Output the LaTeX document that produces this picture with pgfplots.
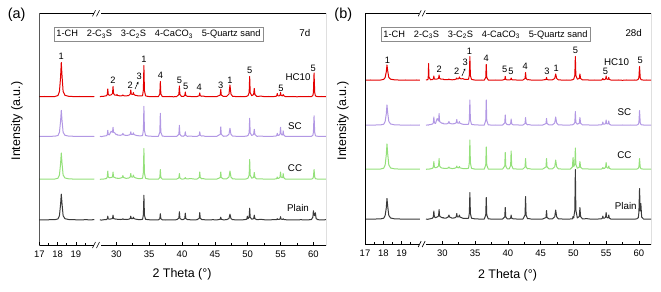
\documentclass[border=0pt]{standalone}
\usepackage{pgfplots}
\pgfplotsset{compat=1.18}
\usepackage{pgfplotstable}
\usetikzlibrary{arrows.meta}
\usepackage{fontspec}
\setmainfont{Liberation Sans}

\definecolor{cR}{RGB}{228,0,0}
\definecolor{cP}{RGB}{178,152,228}
\definecolor{cG}{RGB}{148,224,122}
\definecolor{cK}{RGB}{58,58,58}
\definecolor{boxgray}{RGB}{140,140,140}

% heights above each trace's baseline (px units); columns: panel (a) red/purple/green/black, panel (b) red/purple/green/black
\pgfplotstableread{
x     ra   pa   ga   ka   rb   pb   gb   kb
17.0  0.8  1.0  0.8  0.9  0.8  1.0  0.8  1.0
17.3  1.0  0.8  1.0  0.8  1.0  0.8  1.0  0.8
17.6  0.8  1.0  0.9  1.0  0.8  1.0  0.9  1.0
17.85 1.0  1.1  1.0  1.0  1.0  1.1  1.0  1.1
18.02 2.0  1.8  1.8  1.8  1.6  1.8  1.8  1.8
18.1  6.0  5.0  5.0  5.0  3.5  4.5  5.0  4.5
18.16 20.0 16.0 16.0 16.0 9.0  12.0 15.0 12.0
18.2  35.0 27.0 27.0 26.5 16.0 21.0 26.0 21.5
18.24 22.0 17.0 17.0 17.0 10.0 13.0 16.0 13.5
18.3  6.0  5.0  5.0  5.0  3.5  4.5  5.0  4.5
18.4  2.2  2.0  2.0  2.0  1.8  2.0  2.0  2.0
18.6  1.2  1.2  1.2  1.2  1.2  1.2  1.2  1.2
18.9  0.9  1.0  0.9  1.0  0.9  1.0  0.9  1.0
19.2  1.0  0.8  1.0  0.8  1.0  0.8  1.0  0.8
19.5  0.8  1.0  0.8  1.0  0.8  1.0  0.8  1.0
19.8  1.0  0.9  1.0  0.9  1.0  0.9  1.0  0.9
20.0  0.8  1.0  0.8  1.0  0.8  1.0  0.8  1.0
}\leftdata

\pgfplotstableread{
x     ra   pa   ga   ka   rb   pb   gb   kb
27.5  0.8  1.0  0.6  0.8  1.0  0.8  0.7  0.9
27.8  1.2  0.7  1.0  0.6  1.4  1.1  0.9  0.7
27.85 1.0  0.9  0.8  0.8  5.0  1.0  0.8  0.8
27.9  1.1  0.8  0.9  0.7  17.5 0.9  1.0  0.9
27.95 1.0  1.0  0.8  0.9  4.0  1.2  0.9  1.0
28.2  1.4  1.3  1.1  1.0  1.2  1.5  1.2  1.3
28.5  1.8  1.6  1.5  1.2  1.5  2.0  1.7  1.8
28.62 3.0  2.5  3.0  1.8  2.0  3.2  3.0  3.2
28.7  8.5  7.0  9.0  4.5  5.0  9.0  8.5  9.0
28.78 3.0  2.8  3.0  1.8  2.0  3.2  3.0  3.2
28.95 2.2  2.5  2.2  1.5  1.8  2.5  2.2  2.4
29.2  2.6  6.0  2.5  1.8  2.0  7.5  2.8  3.0
29.42 4.0  5.0  3.0  2.2  2.5  5.0  4.0  4.0
29.5  11.0 10.0 8.0  5.5  6.0  12.5 11.5 10.5
29.58 4.0  5.0  3.0  2.2  2.5  4.5  4.0  4.0
29.75 2.5  4.5  2.5  1.8  2.0  3.5  2.5  3.0
30.0  2.2  2.5  1.8  1.5  1.8  2.5  1.8  2.2
30.1  3.0  3.0  2.0  1.5  2.0  3.0  2.0  2.5
30.2  2.0  2.2  1.6  1.3  1.5  2.2  1.6  2.0
30.6  1.6  2.0  1.8  1.2  1.3  2.0  1.5  2.0
30.9  1.8  2.5  2.5  1.4  1.4  2.8  2.0  3.0
31.0  2.5  4.0  4.5  2.0  2.0  4.5  3.0  5.0
31.1  1.8  2.5  2.5  1.4  1.4  2.8  2.0  3.0
31.5  1.6  1.8  1.6  1.2  1.2  2.0  1.4  1.8
31.9  2.0  2.2  2.0  1.5  1.5  2.5  1.8  2.2
32.12 3.5  3.0  3.0  2.2  2.0  3.2  2.4  3.2
32.2  7.5  5.5  6.5  4.5  3.0  6.5  4.0  6.5
32.28 3.5  3.0  3.2  2.2  2.0  3.2  2.4  3.2
32.45 3.0  2.8  2.8  2.0  2.2  2.8  2.2  3.0
32.52 3.2  3.0  3.0  2.2  2.6  3.0  2.4  3.2
32.6  5.0  4.5  5.0  3.5  4.0  4.5  3.5  5.0
32.68 3.0  2.8  3.0  2.2  2.6  2.8  2.2  3.0
32.9  2.2  2.2  2.2  1.6  2.0  2.2  1.8  2.4
33.1  2.0  1.8  1.8  1.4  2.5  1.8  1.5  1.8
33.3  1.6  1.6  1.5  1.2  1.8  1.6  1.4  1.6
33.7  1.6  1.4  1.4  1.1  1.5  1.5  1.3  1.5
34.0  1.8  1.8  1.8  1.4  1.8  1.8  1.8  1.8
34.12 8.0  7.5  8.0  6.0  6.0  6.5  7.5  7.0
34.2  32.0 31.0 31.5 25.5 24.5 26.0 30.0 27.5
34.28 7.0  7.0  7.0  5.5  5.5  6.0  7.0  6.5
34.45 1.6  1.8  1.6  1.4  1.6  1.6  1.6  1.8
34.9  1.0  1.2  1.0  1.0  1.0  1.2  1.0  1.2
35.5  0.8  1.0  0.8  0.8  0.9  1.0  0.8  1.0
36.0  1.0  0.8  1.0  0.9  1.0  0.9  1.0  0.8
36.4  0.9  1.0  0.8  0.8  0.9  1.0  0.9  1.0
36.62 3.5  5.0  2.5  2.0  3.5  5.5  5.0  5.0
36.7  16.0 24.0 10.5 7.0  16.5 26.0 23.0 22.5
36.78 3.5  5.0  2.5  2.0  3.5  5.5  5.0  5.0
37.0  1.0  1.2  0.9  0.9  1.0  1.2  1.0  1.2
37.5  0.8  0.9  0.8  0.7  0.8  0.9  0.8  0.9
38.1  1.0  1.0  0.9  0.9  1.0  1.0  1.0  1.0
38.7  0.7  0.8  0.8  0.8  0.8  0.8  0.8  0.8
39.2  1.0  1.0  1.0  1.0  1.0  1.0  1.0  1.0
39.52 3.0  3.0  2.0  2.5  1.6  3.0  4.0  3.0
39.6  11.5 12.0 6.5  9.0  4.5  11.0 17.5 12.5
39.68 3.0  3.0  2.0  2.5  1.6  3.0  4.0  3.0
39.9  1.2  1.2  1.0  1.2  1.0  1.4  1.2  1.2
40.2  1.0  1.0  1.0  1.2  1.0  1.2  1.2  1.0
40.42 2.0  2.0  1.4  2.2  1.4  2.2  4.5  1.8
40.5  5.5  5.5  2.5  7.5  3.0  7.0  19.0 5.0
40.58 2.0  2.0  1.4  2.2  1.4  2.2  4.5  1.8
40.8  1.2  1.0  1.0  1.2  1.0  1.2  1.2  1.2
41.3  1.0  1.2  1.5  0.9  1.0  1.2  1.0  1.0
41.8  0.8  0.9  1.0  0.8  0.9  0.9  0.9  0.9
42.3  1.0  1.0  1.0  1.0  1.0  1.0  1.0  1.0
42.62 1.8  2.0  2.5  2.5  2.5  2.5  3.0  5.0
42.7  4.5  5.5  8.0  8.0  8.5  8.5  11.5 23.5
42.78 1.8  2.0  2.5  2.5  2.5  2.5  3.0  5.0
43.0  1.2  1.2  1.2  1.2  1.2  1.2  1.2  1.3
43.2  1.5  1.5  1.4  1.2  1.3  1.4  1.4  1.4
43.5  1.0  1.0  1.0  0.9  1.0  1.0  1.0  1.0
44.1  0.8  0.9  0.8  0.8  0.9  0.8  0.8  0.9
44.7  1.0  0.8  1.0  1.0  0.8  1.0  1.0  0.8
45.3  0.9  1.0  0.9  0.8  1.0  0.9  0.9  1.0
45.82 2.5  3.0  2.5  1.4  1.5  2.5  3.0  2.5
45.9  8.0  10.5 8.0  3.5  3.5  7.5  11.5 9.5
45.98 2.5  3.0  2.5  1.4  1.5  2.5  3.0  2.5
46.3  1.0  1.0  1.0  0.9  1.0  1.0  1.0  1.0
46.8  1.2  1.2  1.2  1.0  1.2  1.2  1.2  1.2
47.15 3.5  3.0  3.0  2.2  2.5  3.0  3.2  3.2
47.3  12.5 9.0  9.0  6.5  7.0  9.0  10.0 10.0
47.45 3.5  3.0  3.0  2.2  2.5  3.0  3.2  3.2
47.7  1.2  1.2  1.2  1.0  1.2  1.2  1.2  1.2
48.3  0.9  1.0  0.9  0.9  0.9  1.0  0.9  1.0
48.9  1.0  0.8  1.0  0.8  1.0  0.8  1.0  0.8
49.5  0.8  1.0  0.8  1.0  0.8  1.0  0.8  1.0
49.85 1.2  1.2  1.2  1.5  1.2  1.2  3.0  1.2
49.95 1.6  1.6  1.6  4.5  1.6  1.6  12.5 3.5
50.05 1.8  1.8  1.8  2.0  1.8  1.8  3.5  2.0
50.22 5.0  4.5  5.0  3.5  5.5  3.5  5.5  10.0
50.3  21.0 19.0 20.5 12.5 24.5 14.5 22.0 50.5
50.38 5.0  4.5  5.0  3.5  5.5  3.5  5.5  10.0
50.6  1.8  1.8  1.8  1.5  1.8  1.8  1.8  2.0
50.9  3.0  2.8  2.5  2.0  2.5  2.8  2.8  3.5
51.0  9.0  8.0  7.5  5.5  7.0  8.5  8.5  12.5
51.1  3.0  2.8  2.5  2.0  2.5  2.8  2.8  3.5
51.4  1.0  1.0  1.0  1.0  1.0  1.0  1.0  1.0
52.0  1.4  1.2  1.2  1.4  1.2  1.2  1.2  1.4
52.6  0.8  0.9  0.8  0.9  0.8  0.9  0.8  0.9
53.2  1.0  0.8  1.0  0.8  1.0  0.8  1.0  0.8
53.8  0.8  1.0  0.8  1.0  0.8  1.0  0.8  1.0
54.3  1.2  1.2  1.1  1.0  1.0  1.2  1.0  1.2
54.42 1.8  1.8  1.5  1.2  1.4  1.8  1.4  1.8
54.5  4.0  4.0  3.0  2.0  2.5  4.0  2.5  4.0
54.58 1.8  1.8  1.5  1.2  1.4  1.8  1.4  1.8
54.75 1.6  2.0  1.8  1.3  1.4  1.8  1.6  1.8
54.92 2.2  3.5  3.0  1.6  2.0  2.4  2.8  2.8
55.0  5.0  10.0 8.0  4.0  5.0  6.0  7.5  7.5
55.08 2.2  3.5  3.0  1.6  2.0  2.4  2.8  2.8
55.25 1.6  2.2  2.2  1.3  1.6  2.0  1.8  2.0
55.35 2.0  3.0  3.0  1.4  2.0  2.6  2.2  2.6
55.4  3.0  6.5  6.5  2.0  3.5  5.0  4.0  5.0
55.48 1.8  2.4  2.4  1.3  1.6  2.0  1.8  2.0
55.7  1.0  1.0  1.0  1.0  1.0  1.0  1.0  1.0
56.3  0.8  0.9  0.9  0.8  0.9  0.9  0.9  0.9
56.9  1.0  0.8  1.0  0.9  1.0  0.8  1.0  0.8
57.5  0.7  1.0  0.8  0.8  0.7  1.0  0.8  1.0
58.1  1.0  0.8  1.0  1.0  1.0  0.8  1.0  0.8
58.7  0.8  1.0  0.8  0.8  0.8  1.0  0.8  1.0
59.3  1.0  0.8  1.0  0.9  1.0  0.8  1.0  0.8
59.7  0.9  1.0  0.9  1.2  0.9  1.0  0.9  1.2
59.92 2.0  2.0  1.6  3.5  1.8  1.8  1.8  2.5
60.0  5.0  5.0  3.0  10.0 3.5  3.5  3.0  8.0
60.1  24.5 21.5 10.5 6.0  14.5 15.5 11.5 31.5
60.2  5.0  5.0  3.0  5.0  3.5  3.5  3.0  9.0
60.3  1.8  1.8  1.5  8.0  1.6  1.6  1.5  16.5
60.42 1.2  1.2  1.1  2.0  1.2  1.2  1.1  3.0
60.7  0.9  1.0  0.9  1.0  0.9  1.0  0.9  1.0
61.2  1.0  0.8  1.0  0.8  1.0  0.8  1.0  0.8
61.9  0.8  1.0  0.8  1.0  0.8  1.0  0.8  1.0
}\rightdata

\pgfplotsset{
  seg/.style={
    scale only axis, anchor=south west,
    ymin=0, ytick=\empty,
    axis line style={draw=none},
    tick align=inside,
    xtick pos=left,
    major tick length=2.8bp, minor tick length=1.7bp,
    tick style={black, line width=0.7bp},
    /pgf/number format/assume math mode=true,
    xticklabel style={font=\fontsize{9.5}{9.5}\selectfont, yshift=-2bp},
    every axis plot/.append style={mark=none, line width=1bp, line join=round},
  },
  leftseg/.style={seg, xmin=17, xmax=20.15, width=57.7bp,
    xtick={17,18,19}, minor xtick={17.5,18.5,19.5}},
  rightseg/.style={seg, width=229bp,
    xtick={30,35,40,45,50,55,60}, minor xtick={32.5,37.5,42.5,47.5,52.5,57.5}},
}
\tikzset{
  pk/.style={font=\fontsize{9.3}{9.3}\selectfont, inner sep=0pt},
  nm/.style={font=\fontsize{9.8}{9.8}\selectfont, inner sep=0pt},
  frame/.style={line width=0.9bp, black},
}

\begin{document}
\begin{tikzpicture}[x=1bp,y=1bp]
\path[use as bounding box] (0,0) rectangle (661,291);

%================ panel (a) =================
\begin{axis}[leftseg, at={(39.3bp,46bp)}, height=231.7bp, ymax=231.7]
\addplot[cR] table[x=x, y expr=\thisrow{ra}+147.5] {\leftdata};
\addplot[cP] table[x=x, y expr=\thisrow{pa}+107.7] {\leftdata};
\addplot[cG] table[x=x, y expr=\thisrow{ga}+65] {\leftdata};
\addplot[cK] table[x=x, y expr=\thisrow{ka}+24.3] {\leftdata};
\node[pk] at (axis cs:18.2,188.3) {1};
\draw[frame] (rel axis cs:1,0) -- (rel axis cs:0,0) -- (rel axis cs:0,1) -- (rel axis cs:1,1);
\end{axis}

\begin{axis}[rightseg, at={(97bp,46bp)}, height=231.7bp, ymax=231.7, xmin=27.06, xmax=61.92]
\addplot[cR] table[x=x, y expr=\thisrow{ra}+147.5] {\rightdata};
\addplot[cP] table[x=x, y expr=\thisrow{pa}+107.7] {\rightdata};
\addplot[cG] table[x=x, y expr=\thisrow{ga}+65] {\rightdata};
\addplot[cK] table[x=x, y expr=\thisrow{ka}+24.3] {\rightdata};
\node[pk] at (axis cs:29.5,165) {2};
\node[pk] at (axis cs:32.1,160) {2};
\node[pk] at (axis cs:33.5,169) {3};
\draw[-{Stealth[length=2.4bp,width=2bp]}, line width=0.5bp] (axis cs:32.85,156) -- (axis cs:33.35,163.3);
\node[pk] at (axis cs:34.2,185.7) {1};
\node[pk] at (axis cs:36.7,170) {4};
\node[pk] at (axis cs:39.6,165) {5};
\node[pk] at (axis cs:40.56,159) {5};
\node[pk] at (axis cs:42.63,157.7) {4};
\node[pk] at (axis cs:45.9,160) {3};
\node[pk] at (axis cs:47.3,165) {1};
\node[pk] at (axis cs:50.3,174.3) {5};
\node[pk] at (axis cs:55.07,156.7) {5};
\node[pk] at (axis cs:59.98,176.7) {5};
\node[nm] at (axis cs:57.66,168) {HC10};
\node[nm] at (axis cs:57.2,119) {SC};
\node[nm] at (axis cs:57.2,77) {CC};
\node[nm] at (axis cs:57.66,37) {Plain};
\node[nm] at (axis cs:58.7,212) {7d};
\draw[frame] (rel axis cs:0,0) -- (rel axis cs:1,0) -- (rel axis cs:1,1) -- (rel axis cs:0,1);
\end{axis}

%================ panel (b) =================
\begin{axis}[leftseg, at={(365bp,47bp)}, height=230.7bp, ymax=230.7]
\addplot[cR] table[x=x, y expr=\thisrow{rb}+163] {\leftdata};
\addplot[cP] table[x=x, y expr=\thisrow{pb}+118] {\leftdata};
\addplot[cG] table[x=x, y expr=\thisrow{gb}+74] {\leftdata};
\addplot[cK] table[x=x, y expr=\thisrow{kb}+24] {\leftdata};
\node[pk] at (axis cs:18.22,184) {1};
\draw[frame] (rel axis cs:1,0) -- (rel axis cs:0,0) -- (rel axis cs:0,1) -- (rel axis cs:1,1);
\end{axis}

\begin{axis}[rightseg, at={(422.7bp,47bp)}, width=228.3bp, height=230.7bp, ymax=230.7, xmin=27.0, xmax=61.85]
\addplot[cR] table[x=x, y expr=\thisrow{rb}+163] {\rightdata};
\addplot[cP] table[x=x, y expr=\thisrow{pb}+118] {\rightdata};
\addplot[cG] table[x=x, y expr=\thisrow{gb}+74] {\rightdata};
\addplot[cK] table[x=x, y expr=\thisrow{kb}+24] {\rightdata};
\node[pk] at (axis cs:29.5,175) {2};
\node[pk] at (axis cs:32.2,172.3) {2};
\node[pk] at (axis cs:33.5,181.7) {3};
\draw[-{Stealth[length=2.4bp,width=2bp]}, line width=0.5bp] (axis cs:32.99,168) -- (axis cs:33.49,175.7);
\node[pk] at (axis cs:34.13,193) {1};
\node[pk] at (axis cs:36.7,185.7) {4};
\node[pk] at (axis cs:39.5,174.7) {5};
\node[pk] at (axis cs:40.47,172.3) {5};
\node[pk] at (axis cs:42.66,177.3) {4};
\node[pk] at (axis cs:45.98,172.3) {3};
\node[pk] at (axis cs:47.36,175.7) {1};
\node[pk] at (axis cs:50.3,193.3) {5};
\node[pk] at (axis cs:54.9,173) {5};
\node[pk] at (axis cs:60.2,184) {5};
\node[nm] at (axis cs:56.6,182) {HC10};
\node[nm] at (axis cs:57.8,132) {SC};
\node[nm] at (axis cs:57.8,89) {CC};
\node[nm] at (axis cs:58.0,38) {Plain};
\node[nm] at (axis cs:59.2,211) {28d};
\draw[frame] (rel axis cs:0,0) -- (rel axis cs:1,0) -- (rel axis cs:1,1) -- (rel axis cs:0,1);
\end{axis}

%================ break marks =================
\foreach \bx/\by in {97/46, 97/277.7, 422.7/47, 422.7/277.7}{
  \fill[white] (\bx-3.5,\by-1.2) rectangle (\bx+3.5,\by+1.2);
  \draw[line width=0.6bp] (\bx-4.5,\by-3) -- (\bx-1.5,\by+3);
  \draw[line width=0.6bp] (\bx-0.5,\by-3) -- (\bx+2.5,\by+3);
}

%================ legend boxes =================
\draw[boxgray, line width=0.7bp] (54,250) rectangle (263,263.3);
\node[font=\fontsize{9.3}{9.3}\selectfont, inner sep=0pt] at (158.5,256.6)
  {1-CH\hspace{0.95em}2-C\textsubscript{3}S\hspace{0.95em}3-C\textsubscript{2}S\hspace{0.95em}4-CaCO\textsubscript{3}\hspace{0.95em}5-Quartz sand};
\draw[boxgray, line width=0.7bp] (381,249.3) rectangle (590,263.3);
\node[font=\fontsize{9.3}{9.3}\selectfont, inner sep=0pt] at (485.5,256.3)
  {1-CH\hspace{0.95em}2-C\textsubscript{3}S\hspace{0.95em}3-C\textsubscript{2}S\hspace{0.95em}4-CaCO\textsubscript{3}\hspace{0.95em}5-Quartz sand};

%================ axis titles and panel letters =================
\node[rotate=90, font=\fontsize{12.5}{12.5}\selectfont] at (17,170) {Intensity (a.u.)};
\node[rotate=90, font=\fontsize{12.5}{12.5}\selectfont] at (343,170) {Intensity (a.u.)};
\node[font=\fontsize{12.5}{12.5}\selectfont] at (182,17) {2 Theta (°)};
\node[font=\fontsize{12.5}{12.5}\selectfont] at (507.5,16) {2 Theta (°)};
\node[font=\fontsize{14.5}{14.5}\selectfont] at (16.7,276) {(a)};
\node[font=\fontsize{14.5}{14.5}\selectfont] at (343.3,276) {(b)};
\end{tikzpicture}
\end{document}
